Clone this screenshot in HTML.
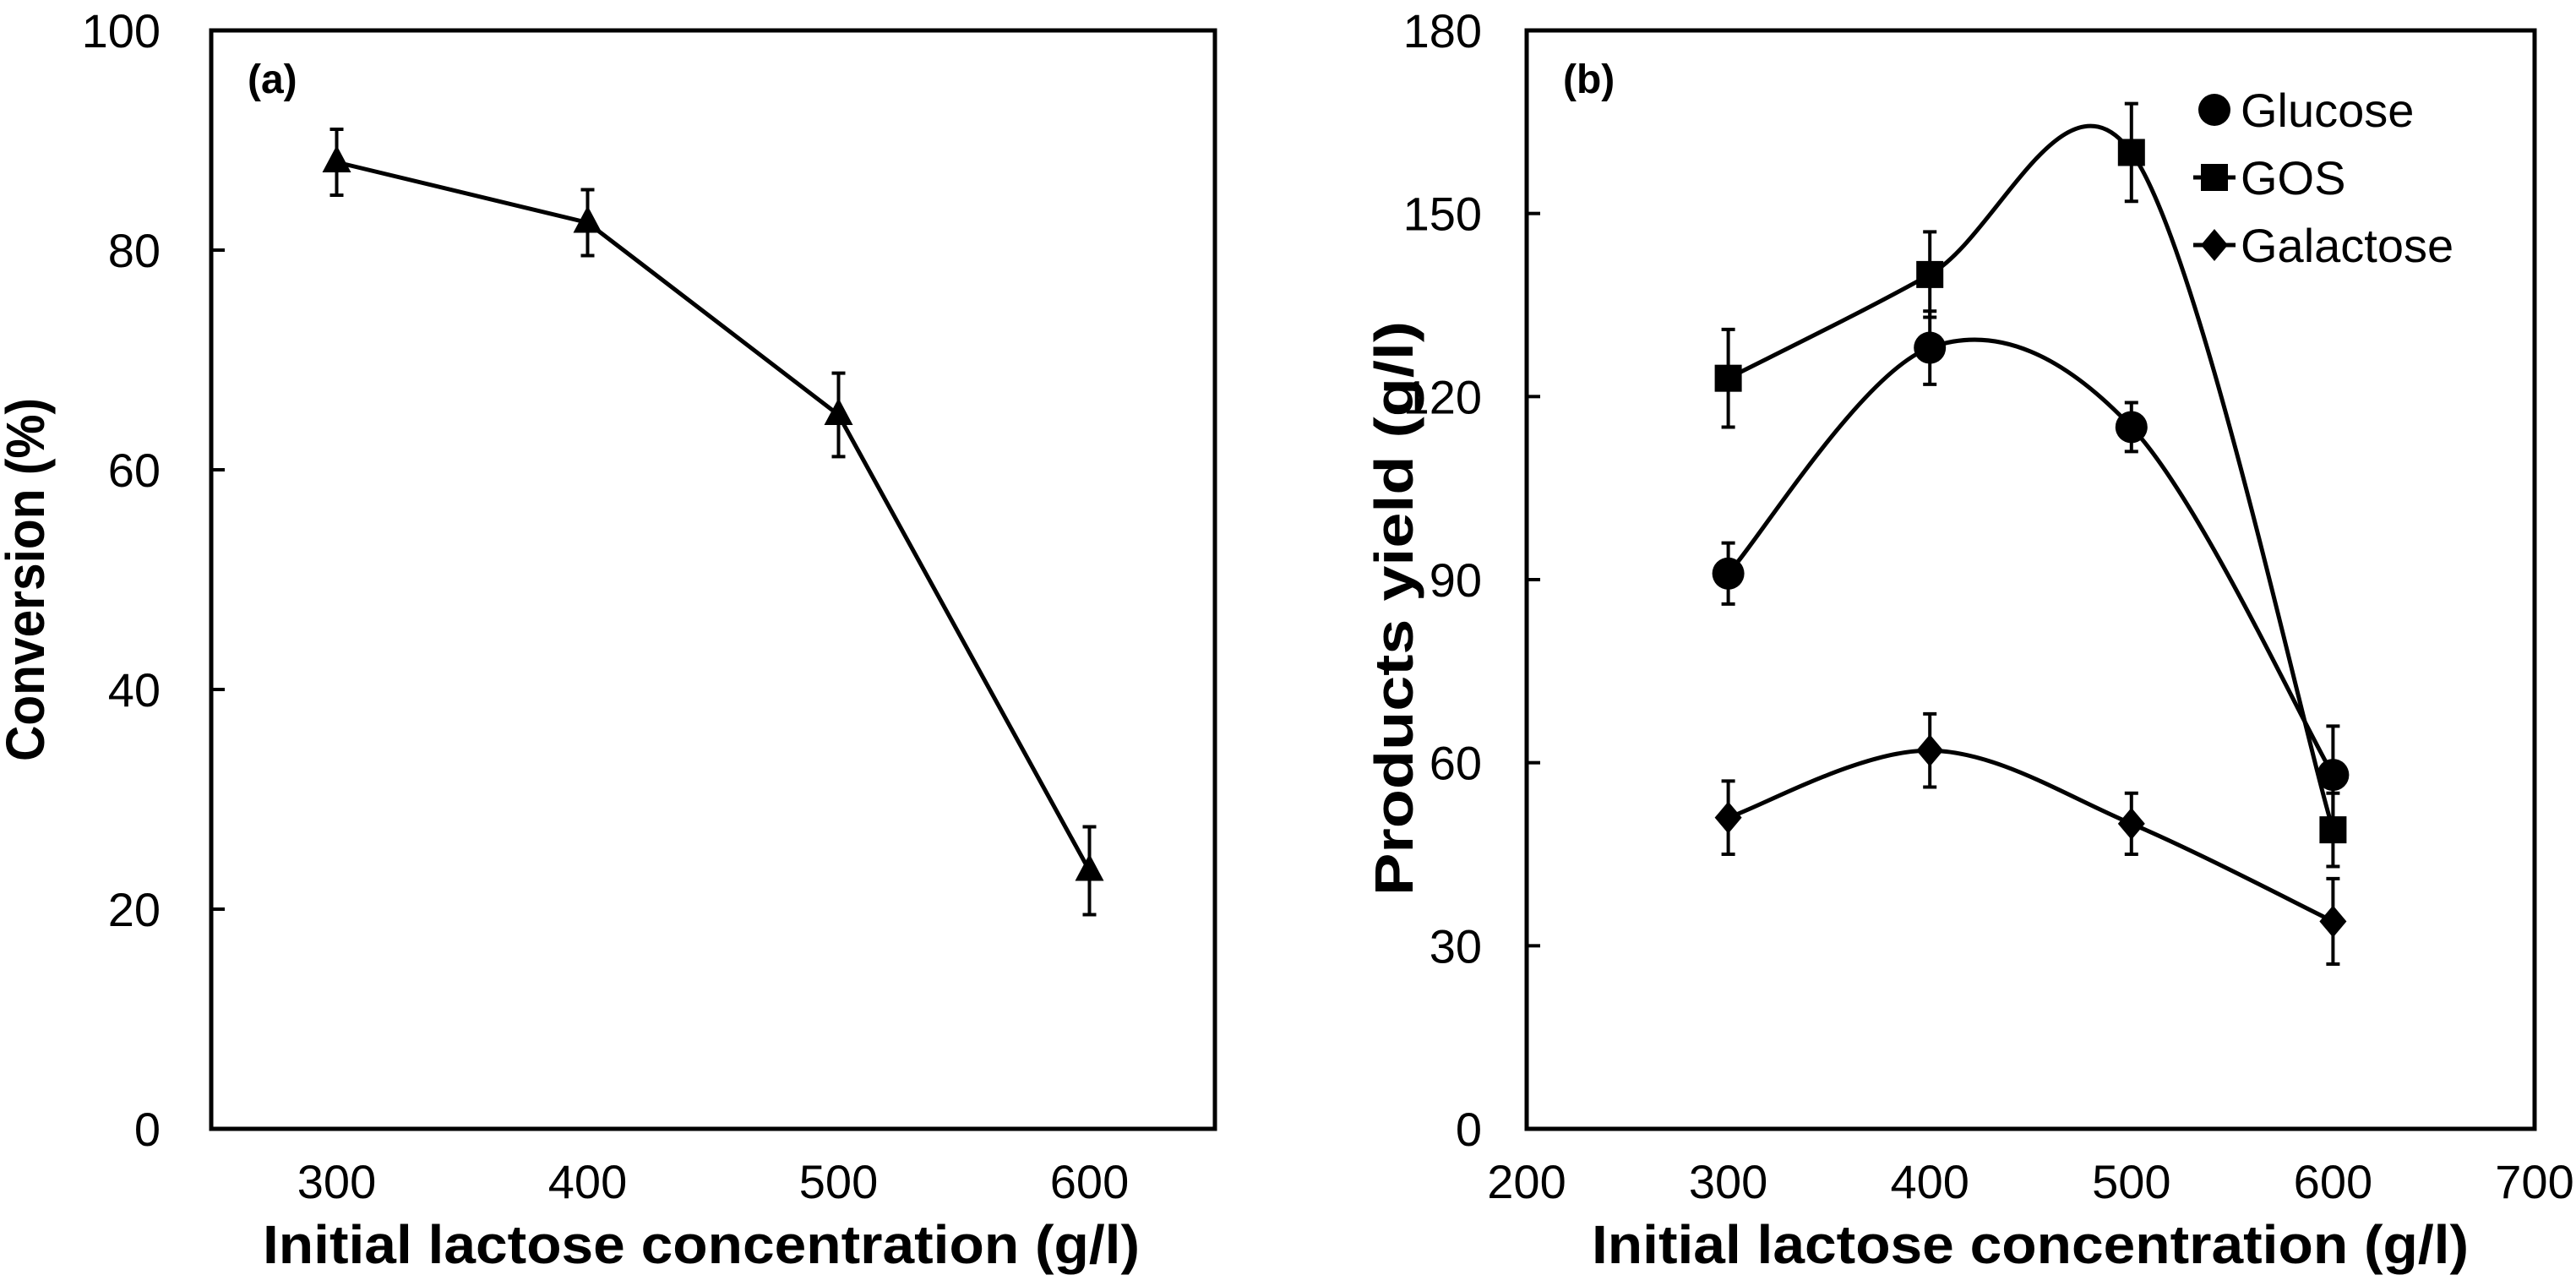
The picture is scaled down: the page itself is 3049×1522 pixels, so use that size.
<!DOCTYPE html>
<html><head><meta charset="utf-8"><style>
html,body{margin:0;padding:0;background:#fff;}
svg{display:block;font-family:"Liberation Sans",Arial,sans-serif;}
</style></head><body>
<svg id="chart" width="3049" height="1522" viewBox="0 0 3049 1522" xmlns="http://www.w3.org/2000/svg">
<g id="pa"></g>
<g id="pb"></g>
</svg>
<script>
const xCatsA = [300, 400, 500, 600];
const conversion = [88, 82.5, 65, 23.5];
const conversionErr = [3, 3, 3.8, 4];
const yTicksA = [0, 20, 40, 60, 80, 100];
const xTicksA = [300, 400, 500, 600];

const xCatsB = [300, 400, 500, 600];
const glucose = [91, 128, 115, 58];
const glucoseErr = [5, 6, 4, 8];
const gos = [123, 140, 160, 49];
const gosErr = [8, 7, 8, 6];
const galactose = [51, 62, 50, 34];
const galactoseErr = [6, 6, 5, 7];
const yTicksB = [0, 30, 60, 90, 120, 150, 180];
const xTicksB = [200, 300, 400, 500, 600, 700];
const legendLabels = ["Glucose", "GOS", "Galactose"];

const NS = "http://www.w3.org/2000/svg";
function mk(parent, tag, attrs, text) {
  const e = document.createElementNS(NS, tag);
  for (const k in attrs) e.setAttribute(k, attrs[k]);
  if (text !== undefined) e.textContent = text;
  parent.appendChild(e);
  return e;
}
function lin(d0, d1, r0, r1) { return v => r0 + (v - d0) * (r1 - r0) / (d1 - d0); }

function smoothPath(pts) {
  let d = `M${pts[0][0]},${pts[0][1]}`;
  const t = 1 / 6;
  for (let i = 0; i < pts.length - 1; i++) {
    const p0 = pts[Math.max(0, i - 1)], p1 = pts[i], p2 = pts[i + 1], p3 = pts[Math.min(pts.length - 1, i + 2)];
    const c1 = [p1[0] + (p2[0] - p0[0]) * t, p1[1] + (p2[1] - p0[1]) * t];
    const c2 = [p2[0] - (p3[0] - p1[0]) * t, p2[1] - (p3[1] - p1[1]) * t];
    d += ` C${c1[0]},${c1[1]} ${c2[0]},${c2[1]} ${p2[0]},${p2[1]}`;
  }
  return d;
}

function marker(g, type, cx, cy) {
  let e;
  if (type === "tri") e = mk(g, "polygon", {points: `${cx},${cy-20} ${cx-17},${cy+12} ${cx+17},${cy+12}`, fill: "#000"});
  else if (type === "circle") e = mk(g, "circle", {cx, cy, r: 19, fill: "#000"});
  else if (type === "square") e = mk(g, "rect", {x: cx-16, y: cy-16, width: 32, height: 32, fill: "#000"});
  else e = mk(g, "polygon", {points: `${cx},${cy-19} ${cx+16},${cy} ${cx},${cy+19} ${cx-16},${cy}`, fill: "#000"});
  return e;
}

function errBar(g, x, y1, y2) {
  mk(g, "line", {x1: x, y1, x2: x, y2, stroke: "#000", "stroke-width": 4});
  mk(g, "line", {x1: x-8, y1, x2: x+8, y2: y1, stroke: "#000", "stroke-width": 4});
  mk(g, "line", {x1: x-8, y1: y2, x2: x+8, y2, stroke: "#000", "stroke-width": 4});
}

function frame(g, L, T, R, B) {
  const f = mk(g, "rect", {x: L, y: T, width: R-L, height: B-T, fill: "none", stroke: "#000", "stroke-width": 5});
  
  
}

// Panel A
(function(){
  const g = document.getElementById("pa");
  const L = 250, R = 1438, T = 36, B = 1336;
  const x = lin(250, 650, L, R), y = lin(0, 100, B, T);
  frame(g, L, T, R, B);
  yTicksA.forEach(v => {
    mk(g, "line", {x1: L, y1: y(v), x2: L+16, y2: y(v), stroke: "#000", "stroke-width": 4});
    const t = mk(g, "text", {x: L-60, y: y(v)+20, "font-size": 56, "text-anchor": "end"}, v);
    
    
  });
  xTicksA.forEach(v => {
    const t = mk(g, "text", {x: x(v), y: 1418, "font-size": 56, "text-anchor": "middle"}, v);
    
    
  });
  const pts = xCatsA.map((c, i) => [x(c), y(conversion[i])]);
  const ln = mk(g, "polyline", {points: pts.map(p => p.join(",")).join(" "), fill: "none", stroke: "#000", "stroke-width": 5});
  
  
  xCatsA.forEach((c, i) => {
    errBar(g, x(c), y(conversion[i] + conversionErr[i]), y(conversion[i] - conversionErr[i]));
    const m = marker(g, "tri", x(c), y(conversion[i]));
    
    
  });
  const lab = mk(g, "text", {x: 293, y: 110, "font-size": 48, "font-weight": "bold"}, "(a)");
  
  
  const xt = mk(g, "text", {x: 830, y: 1495, "font-size": 64, "font-weight": "bold", "text-anchor": "middle", textLength: 1038, lengthAdjust: "spacingAndGlyphs"}, "Initial lactose concentration (g/l)");
  
  
  const yt = mk(g, "text", {x: 0, y: 0, "font-size": 64, "font-weight": "bold", "text-anchor": "middle", transform: "translate(52,686) rotate(-90)", textLength: 430, lengthAdjust: "spacingAndGlyphs"}, "Conversion (%)");
  
  
})();

// Panel B
(function(){
  const g = document.getElementById("pb");
  const L = 1807, R = 3000, T = 36, B = 1336;
  const x = lin(200, 700, L, R), y = lin(0, 180, B, T);
  frame(g, L, T, R, B);
  yTicksB.forEach(v => {
    mk(g, "line", {x1: L, y1: y(v), x2: L+16, y2: y(v), stroke: "#000", "stroke-width": 4});
    const t = mk(g, "text", {x: L-53, y: y(v)+20, "font-size": 56, "text-anchor": "end"}, v);
    
    
  });
  xTicksB.forEach(v => {
    const t = mk(g, "text", {x: x(v), y: 1418, "font-size": 56, "text-anchor": "middle"}, v);
    
    
  });
  const series = [
    {name: "glucose", vals: glucose, err: glucoseErr, m: "circle"},
    {name: "gos", vals: gos, err: gosErr, m: "square"},
    {name: "galactose", vals: galactose, err: galactoseErr, m: "diamond"}
  ];
  series.forEach(s => {
    const pts = xCatsB.map((c, i) => [x(c), y(s.vals[i])]);
    const p = mk(g, "path", {d: smoothPath(pts), fill: "none", stroke: "#000", "stroke-width": 5});
    
    
    xCatsB.forEach((c, i) => {
      errBar(g, x(c), y(s.vals[i] + s.err[i]), y(s.vals[i] - s.err[i]));
      const m = marker(g, s.m, x(c), y(s.vals[i]));
      
      
    });
  });
  const lab = mk(g, "text", {x: 1850, y: 110, "font-size": 48, "font-weight": "bold"}, "(b)");
  
  
  const types = ["circle", "square", "diamond"];
  legendLabels.forEach((name, i) => {
    const ly = 130 + i * 80;
    const lg = mk(g, "g", {});
    
    
    if (i > 0) mk(lg, "line", {x1: 2596, y1: ly, x2: 2646, y2: ly, stroke: "#000", "stroke-width": 5});
    marker(lg, types[i], 2621, ly);
    mk(lg, "text", {x: 2652, y: ly + 20, "font-size": 56}, name);
  });
  const xt = mk(g, "text", {x: 2403, y: 1495, "font-size": 64, "font-weight": "bold", "text-anchor": "middle", textLength: 1038, lengthAdjust: "spacingAndGlyphs"}, "Initial lactose concentration (g/l)");
  
  
  const yt = mk(g, "text", {x: 0, y: 0, "font-size": 64, "font-weight": "bold", "text-anchor": "middle", transform: "translate(1672,720) rotate(-90)", textLength: 680, lengthAdjust: "spacingAndGlyphs"}, "Products yield (g/l)");
  
  
})();
</script>
</body></html>
